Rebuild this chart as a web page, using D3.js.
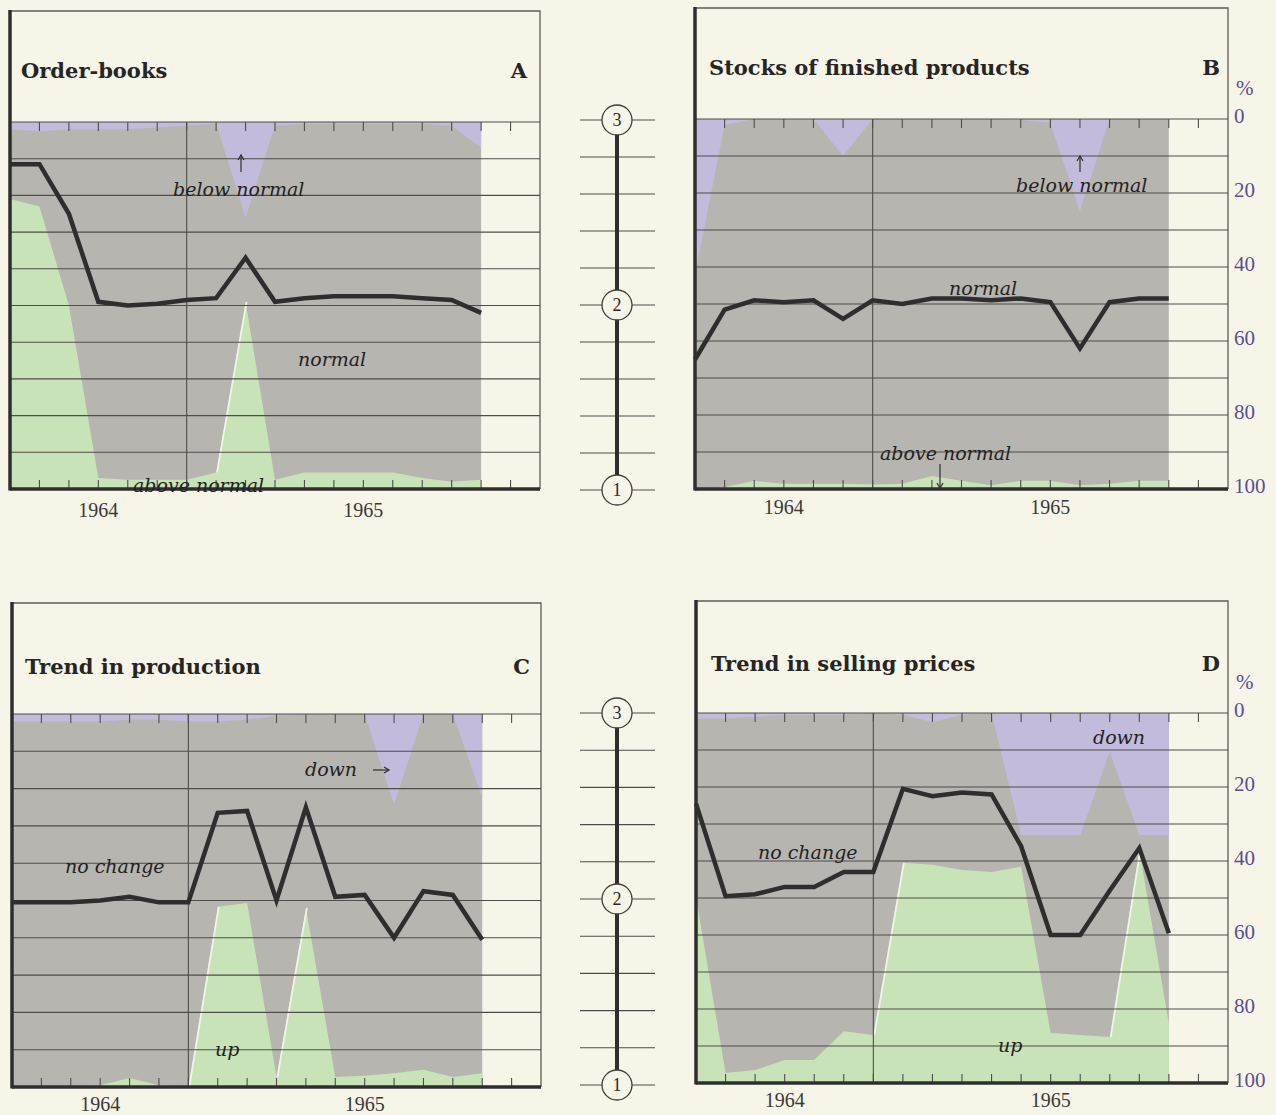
<!DOCTYPE html>
<html>
<head>
<meta charset="utf-8">
<script src="https://cdn.jsdelivr.net/npm/d3@7"></script>
<style>
  body { margin: 0; background: #f7f5e8; }
  svg { display: block; }
</style>
</head>
<body>
<svg id="chart" width="1276" height="1115"></svg>
<script>
// survey points along the time axis, and the ticks drawn on it
var surveyPoints = [0, 1, 2, 3, 4, 5, 6, 7, 8, 9, 10, 11, 12, 13, 14, 15, 16];
var tickPoints = [1, 2, 3, 4, 5, 6, 7, 8, 9, 10, 11, 12, 13, 14, 15, 16, 17];
var yearLabels = ["1964", "1965"];
var yearPoints = [3, 12];
var gridPercents = [0, 10, 20, 30, 40, 50, 60, 70, 80, 90];
var percentLabels = [0, 20, 40, 60, 80, 100];
var scoreLabels = [3, 2, 1];

// A - order-books (% of firms)
var orderBelow = [2, 2.5, 2, 2, 2, 1.5, 1, 0.5, 26, 1, 0.5, 0.5, 0.5, 0.5, 0.5, 1, 7];
var orderAbove = [79, 77, 50, 3, 2.5, 2.5, 2.5, 4.5, 51, 2.5, 4.5, 4.5, 4.5, 4.5, 3, 2, 2.5];
var orderScore = [2.77, 2.77, 2.50, 2.02, 2.00, 2.01, 2.03, 2.04, 2.26, 2.02, 2.04, 2.05, 2.05, 2.05, 2.04, 2.03, 1.96];

// B - stocks of finished products
var stockBelow = [42, 1.6, 0, 0, 0, 10, 0, 0, 0, 0, 0, 0.3, 1, 25, 0, 0, 0];
var stockAbove = [0, 0.5, 2.2, 1.4, 1.4, 1.4, 1.2, 1.4, 3.5, 2.2, 1, 2.2, 2.2, 1, 1.4, 2.2, 2.2];
var stockScore = [1.70, 1.97, 2.02, 2.01, 2.02, 1.92, 2.02, 2.00, 2.03, 2.03, 2.02, 2.03, 2.01, 1.76, 2.01, 2.03, 2.03];

// C - trend in production
var prodDown = [2, 2, 2, 2, 1.5, 1.5, 2, 2, 1.5, 0.5, 0, 0, 0, 24.4, 0, 0, 22.5];
var prodUp = [0, 0, 0, 0.5, 2.4, 0.5, 0, 48.3, 49.3, 2.7, 48, 2.7, 3, 3.7, 4.6, 2.7, 3.7];
var prodScore = [1.99, 1.99, 1.99, 2.00, 2.02, 1.99, 1.99, 2.47, 2.48, 2.00, 2.50, 2.02, 2.03, 1.80, 2.05, 2.03, 1.79];

// D - trend in selling prices
var priceDown = [1.5, 1.5, 1, 0.5, 0.5, 0.5, 0, 0.5, 2.5, 0.5, 0, 33, 33, 33, 10.5, 33, 33];
var priceUp = [50.3, 2.7, 3.5, 6.2, 6.2, 14, 13, 59.5, 59, 57.6, 57, 58.5, 13.5, 13, 12.4, 63, 16];
var priceScore = [2.51, 2.01, 2.02, 2.06, 2.06, 2.14, 2.14, 2.59, 2.55, 2.57, 2.56, 2.28, 1.80, 1.80, 2.04, 2.27, 1.81];

var paper = "#f7f5e8";
var grayFill = "#b7b5b0";
var greenFill = "#c8e3b8";
var purpleFill = "#c2bbdc";
var ink = "#2f2e2e";
var gridInk = "#4e4d4b";
var purpleInk = "#5b4e92";

var svg = d3.select("#chart");
svg.append("rect").attr("width", 1276).attr("height", 1115).attr("fill", paper);

var panels = [
  { title: "Order-books", letter: "A", left: 10, right: 540, frameTop: 11, top: 122, bottom: 489,
    titleX: 21, titleY: 78, letterX: 527, yearY: 517, rightAxis: false,
    below: orderBelow, above: orderAbove, score: orderScore,
    notes: [
      { text: "below normal", x: 173, y: 196 },
      { text: "normal", x: 298, y: 366 },
      { text: "above normal", x: 133, y: 492 }
    ],
    arrows: [{ x1: 241, y1: 172, x2: 241, y2: 155 }] },
  { title: "Stocks of finished products", letter: "B", left: 695, right: 1228, frameTop: 8, top: 119, bottom: 489,
    titleX: 709, titleY: 75, letterX: 1220, yearY: 514, rightAxis: true, pctY: 95,
    below: stockBelow, above: stockAbove, score: stockScore,
    notes: [
      { text: "below normal", x: 1016, y: 192 },
      { text: "normal", x: 949, y: 295 },
      { text: "above normal", x: 880, y: 460 }
    ],
    arrows: [{ x1: 1080, y1: 172, x2: 1080, y2: 156 }, { x1: 940, y1: 464, x2: 940, y2: 488 }] },
  { title: "Trend in production", letter: "C", left: 12, right: 541, frameTop: 603, top: 714, bottom: 1087,
    titleX: 25, titleY: 674, letterX: 530, yearY: 1111, rightAxis: false,
    below: prodDown, above: prodUp, score: prodScore,
    notes: [
      { text: "no change", x: 65, y: 873 },
      { text: "down", x: 305, y: 776 },
      { text: "up", x: 215, y: 1056 }
    ],
    arrows: [{ x1: 373, y1: 770, x2: 389, y2: 770 }] },
  { title: "Trend in selling prices", letter: "D", left: 696, right: 1228, frameTop: 601, top: 713, bottom: 1083,
    titleX: 711, titleY: 671, letterX: 1220, yearY: 1107, rightAxis: true, pctY: 689,
    below: priceDown, above: priceUp, score: priceScore,
    notes: [
      { text: "no change", x: 758, y: 859 },
      { text: "down", x: 1093, y: 744 },
      { text: "up", x: 998, y: 1052 }
    ],
    arrows: [] }
];

function drawArrow(g, a) {
  var ang = Math.atan2(a.y2 - a.y1, a.x2 - a.x1) * 180 / Math.PI;
  g.append("line").attr("x1", a.x1).attr("y1", a.y1).attr("x2", a.x2).attr("y2", a.y2)
    .attr("stroke", ink).attr("stroke-width", 1.2);
  g.append("path").attr("d", "M-5,-3L0,0L-5,3")
    .attr("transform", "translate(" + a.x2 + "," + a.y2 + ") rotate(" + ang + ")")
    .attr("fill", "none").attr("stroke", ink).attr("stroke-width", 1.2);
}

function drawPanel(p) {
  var x = d3.scaleLinear().domain([0, 18]).range([p.left, p.right]);
  var y = d3.scaleLinear().domain([0, 100]).range([p.top, p.bottom]);
  var yScore = d3.scaleLinear().domain([3, 1]).range([p.top, p.bottom]);
  var g = svg.append("g");

  var rows = surveyPoints.map(function (s, i) {
    return { s: s, below: p.below[i], above: p.above[i], score: p.score[i] };
  });

  // neutral share fills the whole column, then the two tails on top of it
  g.append("path").datum(rows)
    .attr("d", d3.area().x(function (d) { return x(d.s); }).y0(y(0)).y1(y(100)))
    .attr("fill", grayFill);
  g.append("path").datum(rows)
    .attr("d", d3.area().x(function (d) { return x(d.s); }).y0(y(0)).y1(function (d) { return y(d.below); }))
    .attr("fill", purpleFill);
  g.append("path").datum(rows)
    .attr("d", d3.area().x(function (d) { return x(d.s); }).y0(y(100)).y1(function (d) { return y(100 - d.above); }))
    .attr("fill", greenFill);

  // thin light edge where the green tint jumps up (print misregister)
  var jumps = rows.slice(1).filter(function (d, i) { return d.above - rows[i].above > 20; });
  g.selectAll(".edge").data(jumps).enter().append("line")
    .attr("x1", function (d) { return x(d.s - 1) + 1; })
    .attr("y1", function (d) { return y(100 - rows[d.s - 1].above); })
    .attr("x2", function (d) { return x(d.s) + 1; })
    .attr("y2", function (d) { return y(100 - d.above); })
    .attr("stroke", "#f3f5ec").attr("stroke-width", 1.6);

  // frame
  g.append("path")
    .attr("d", "M" + p.left + "," + p.frameTop + "H" + p.right + "V" + p.bottom)
    .attr("fill", "none").attr("stroke", "#5d5b58").attr("stroke-width", 1.3);

  // horizontal grid
  g.selectAll(".grid").data(gridPercents).enter().append("line")
    .attr("x1", p.left).attr("x2", p.right)
    .attr("y1", function (d) { return y(d); }).attr("y2", function (d) { return y(d); })
    .attr("stroke", gridInk).attr("stroke-width", 1.1);

  // year divider
  g.append("line").attr("x1", x(6)).attr("x2", x(6)).attr("y1", y(0)).attr("y2", y(100))
    .attr("stroke", gridInk).attr("stroke-width", 1.1);

  // ticks top and bottom
  g.selectAll(".ttick").data(tickPoints).enter().append("line")
    .attr("x1", function (d) { return x(d); }).attr("x2", function (d) { return x(d); })
    .attr("y1", y(0)).attr("y2", y(0) + 9)
    .attr("stroke", gridInk).attr("stroke-width", 1.1);
  g.selectAll(".btick").data(tickPoints).enter().append("line")
    .attr("x1", function (d) { return x(d); }).attr("x2", function (d) { return x(d); })
    .attr("y1", y(100)).attr("y2", y(100) - 9)
    .attr("stroke", gridInk).attr("stroke-width", 1.1);

  // heavy axes
  g.append("line").attr("x1", p.left).attr("x2", p.right).attr("y1", y(100)).attr("y2", y(100))
    .attr("stroke", ink).attr("stroke-width", 3.5);
  g.append("line").attr("x1", p.left).attr("x2", p.left).attr("y1", p.frameTop - 1).attr("y2", y(100) + 1.5)
    .attr("stroke", ink).attr("stroke-width", 3.5);

  // balance line
  g.append("path").datum(rows)
    .attr("d", d3.line().x(function (d) { return x(d.s); }).y(function (d) { return yScore(d.score); }))
    .attr("fill", "none").attr("stroke", ink).attr("stroke-width", 4.5)
    .attr("stroke-linejoin", "miter");

  // titles
  g.append("text").attr("x", p.titleX).attr("y", p.titleY).text(p.title)
    .attr("font-family", "DejaVu Serif").attr("font-weight", "bold").attr("font-size", 21)
    .attr("fill", "#262525");
  g.append("text").attr("x", p.letterX).attr("y", p.titleY).attr("text-anchor", "end").text(p.letter)
    .attr("font-family", "DejaVu Serif").attr("font-weight", "bold").attr("font-size", 21)
    .attr("fill", "#262525");

  // years
  g.selectAll(".year").data(yearLabels).enter().append("text")
    .attr("x", function (d, i) { return x(yearPoints[i]); }).attr("y", p.yearY)
    .attr("text-anchor", "middle").text(function (d) { return d; })
    .attr("font-family", "Liberation Serif").attr("font-size", 20).attr("fill", "#3a3938");

  // annotations
  g.selectAll(".note").data(p.notes).enter().append("text")
    .attr("x", function (d) { return d.x; }).attr("y", function (d) { return d.y; })
    .text(function (d) { return d.text; })
    .attr("font-family", "DejaVu Serif").attr("font-style", "italic").attr("font-size", 19)
    .attr("fill", "#232222");
  p.arrows.forEach(function (a) { drawArrow(g, a); });

  // percent scale on the right
  if (p.rightAxis) {
    g.append("text").attr("x", 1236).attr("y", p.pctY).text("%")
      .attr("font-family", "Liberation Serif").attr("font-size", 21).attr("fill", purpleInk);
    g.selectAll(".pct").data(percentLabels).enter().append("text")
      .attr("x", 1234).attr("y", function (d) { return y(d) + 4; })
      .text(function (d) { return d; })
      .attr("font-family", "Liberation Serif").attr("font-size", 21).attr("fill", purpleInk);
  }
}

panels.forEach(drawPanel);

// central 1-2-3 scales between the panels
function drawScale(top, bottom) {
  var cx = 617;
  var y = d3.scaleLinear().domain([0, 100]).range([top, bottom]);
  var yScore = d3.scaleLinear().domain([3, 1]).range([top, bottom]);
  var g = svg.append("g");
  g.selectAll(".st").data(gridPercents.concat([100])).enter().append("line")
    .attr("x1", 580).attr("x2", 655)
    .attr("y1", function (d) { return y(d); }).attr("y2", function (d) { return y(d); })
    .attr("stroke", gridInk).attr("stroke-width", 1.1);
  g.append("line").attr("x1", cx).attr("x2", cx).attr("y1", yScore(3)).attr("y2", yScore(1))
    .attr("stroke", ink).attr("stroke-width", 4);
  var c = g.selectAll(".sc").data(scoreLabels).enter().append("g")
    .attr("transform", function (d) { return "translate(" + cx + "," + yScore(d) + ")"; });
  c.append("circle").attr("r", 15).attr("fill", paper).attr("stroke", "#3d3c3a").attr("stroke-width", 1.3);
  c.append("text").attr("y", 6).attr("text-anchor", "middle").text(function (d) { return d; })
    .attr("font-family", "Liberation Serif").attr("font-size", 18).attr("fill", "#2a2929");
}

drawScale(120, 490);
drawScale(713, 1085);
</script>
</body>
</html>
